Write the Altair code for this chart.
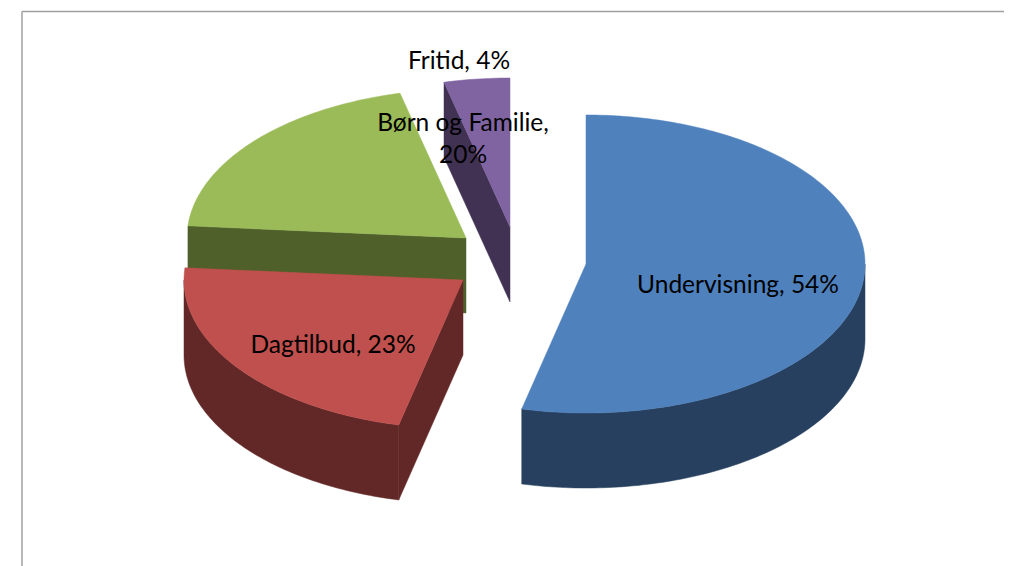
import math
import altair as alt
import pandas as pd

categories = ["Undervisning", "Dagtilbud", "Børn og Familie", "Fritid"]
shares = [53.7, 22.6, 19.9, 3.8]
top_colors = ["#4F81BD", "#C0504D", "#9BBB59", "#8064A2"]
wall_colors = ["#27405F", "#622827", "#4F602B", "#413253"]

# pie layout, in picture pixels
centres = [(586, 264), (463, 280), (466, 238), (510, 227)]
RX, RY, DEPTH = 279, 149, 75
W, H = 1004, 566


def pt(c, deg, drop=0):
    a = math.radians(deg)
    return (c[0] + RX * math.sin(a), c[1] - RY * math.cos(a) + drop)


def arc(c, a0, a1, drop=0):
    n = max(2, int(abs(a1 - a0)) + 1)
    return [pt(c, a0 + (a1 - a0) * i / (n - 1), drop) for i in range(n)]


starts = [0.0]
for s in shares:
    starts.append(starts[-1] + s * 3.6)
starts[-1] = 360.0

x_enc = alt.X("px:Q", scale=alt.Scale(domain=[8, W], nice=False), axis=None)
y_enc = alt.Y("py:Q", scale=alt.Scale(domain=[8, H], nice=False, reverse=True), axis=None)


def shape(points, color):
    df = pd.DataFrame(points, columns=["px", "py"]).reset_index()
    closed = pd.concat([df, df.iloc[[0]].assign(index=len(df))])
    return (
        alt.Chart(closed)
        .mark_line(fill=color, stroke=color, strokeWidth=0.5, interpolate="linear")
        .encode(x=x_enc, y=y_enc, order="index:Q")
    )


layers = []
# Fritid, then Børn og Familie, Dagtilbud, Undervisning: back to front
for i in [3, 2, 1, 0]:
    c, a0, a1 = centres[i], starts[i], starts[i + 1]
    # cut face turned towards the viewer
    if i != 0:
        e = pt(c, a0)
        layers.append(shape([e, c, (c[0], c[1] + DEPTH), (e[0], e[1] + DEPTH)], wall_colors[i]))
    # outer wall
    lo, hi = max(a0, 90), min(a1, 270)
    if lo < hi:
        layers.append(shape(arc(c, lo, hi) + arc(c, hi, lo, DEPTH), wall_colors[i]))
    # top face
    layers.append(shape([c] + arc(c, a0, a1), top_colors[i]))

label_text = [f"{n}, {round(s)}%" for n, s in zip(categories, shares)]
label_text[2] = label_text[2].replace(", ", ",\n")
label_x = [738, 333, 463, 459]
label_y = [286, 346, 124, 62]
labels = pd.DataFrame({"t": label_text, "px": label_x, "py": label_y})
text = (
    alt.Chart(labels)
    .mark_text(font="Lato", fontSize=24.5, color="#000000", lineBreak="\n", lineHeight=32,
               align="center", baseline="middle")
    .encode(x=x_enc, y=y_enc, text="t:N")
)

frame_top = alt.Chart(pd.DataFrame({"a": [0]})).mark_rule(color="#a0a0a0", strokeWidth=1.5).encode(
    x=alt.value(14), x2=alt.value(W - 8), y=alt.value(3.5))
frame_left = alt.Chart(pd.DataFrame({"a": [0]})).mark_rule(color="#a0a0a0", strokeWidth=1.5).encode(
    x=alt.value(14), y=alt.value(3.5), y2=alt.value(H - 8))

chart = (
    alt.layer(frame_top, frame_left, *layers, text)
    .properties(width=W - 8, height=H - 8, padding=0, autosize=alt.AutoSizeParams(type="none"), background="#ffffff")
    .configure_view(stroke=None)
)
chart.save("out.html", embed_options={"renderer": "svg", "actions": False})
